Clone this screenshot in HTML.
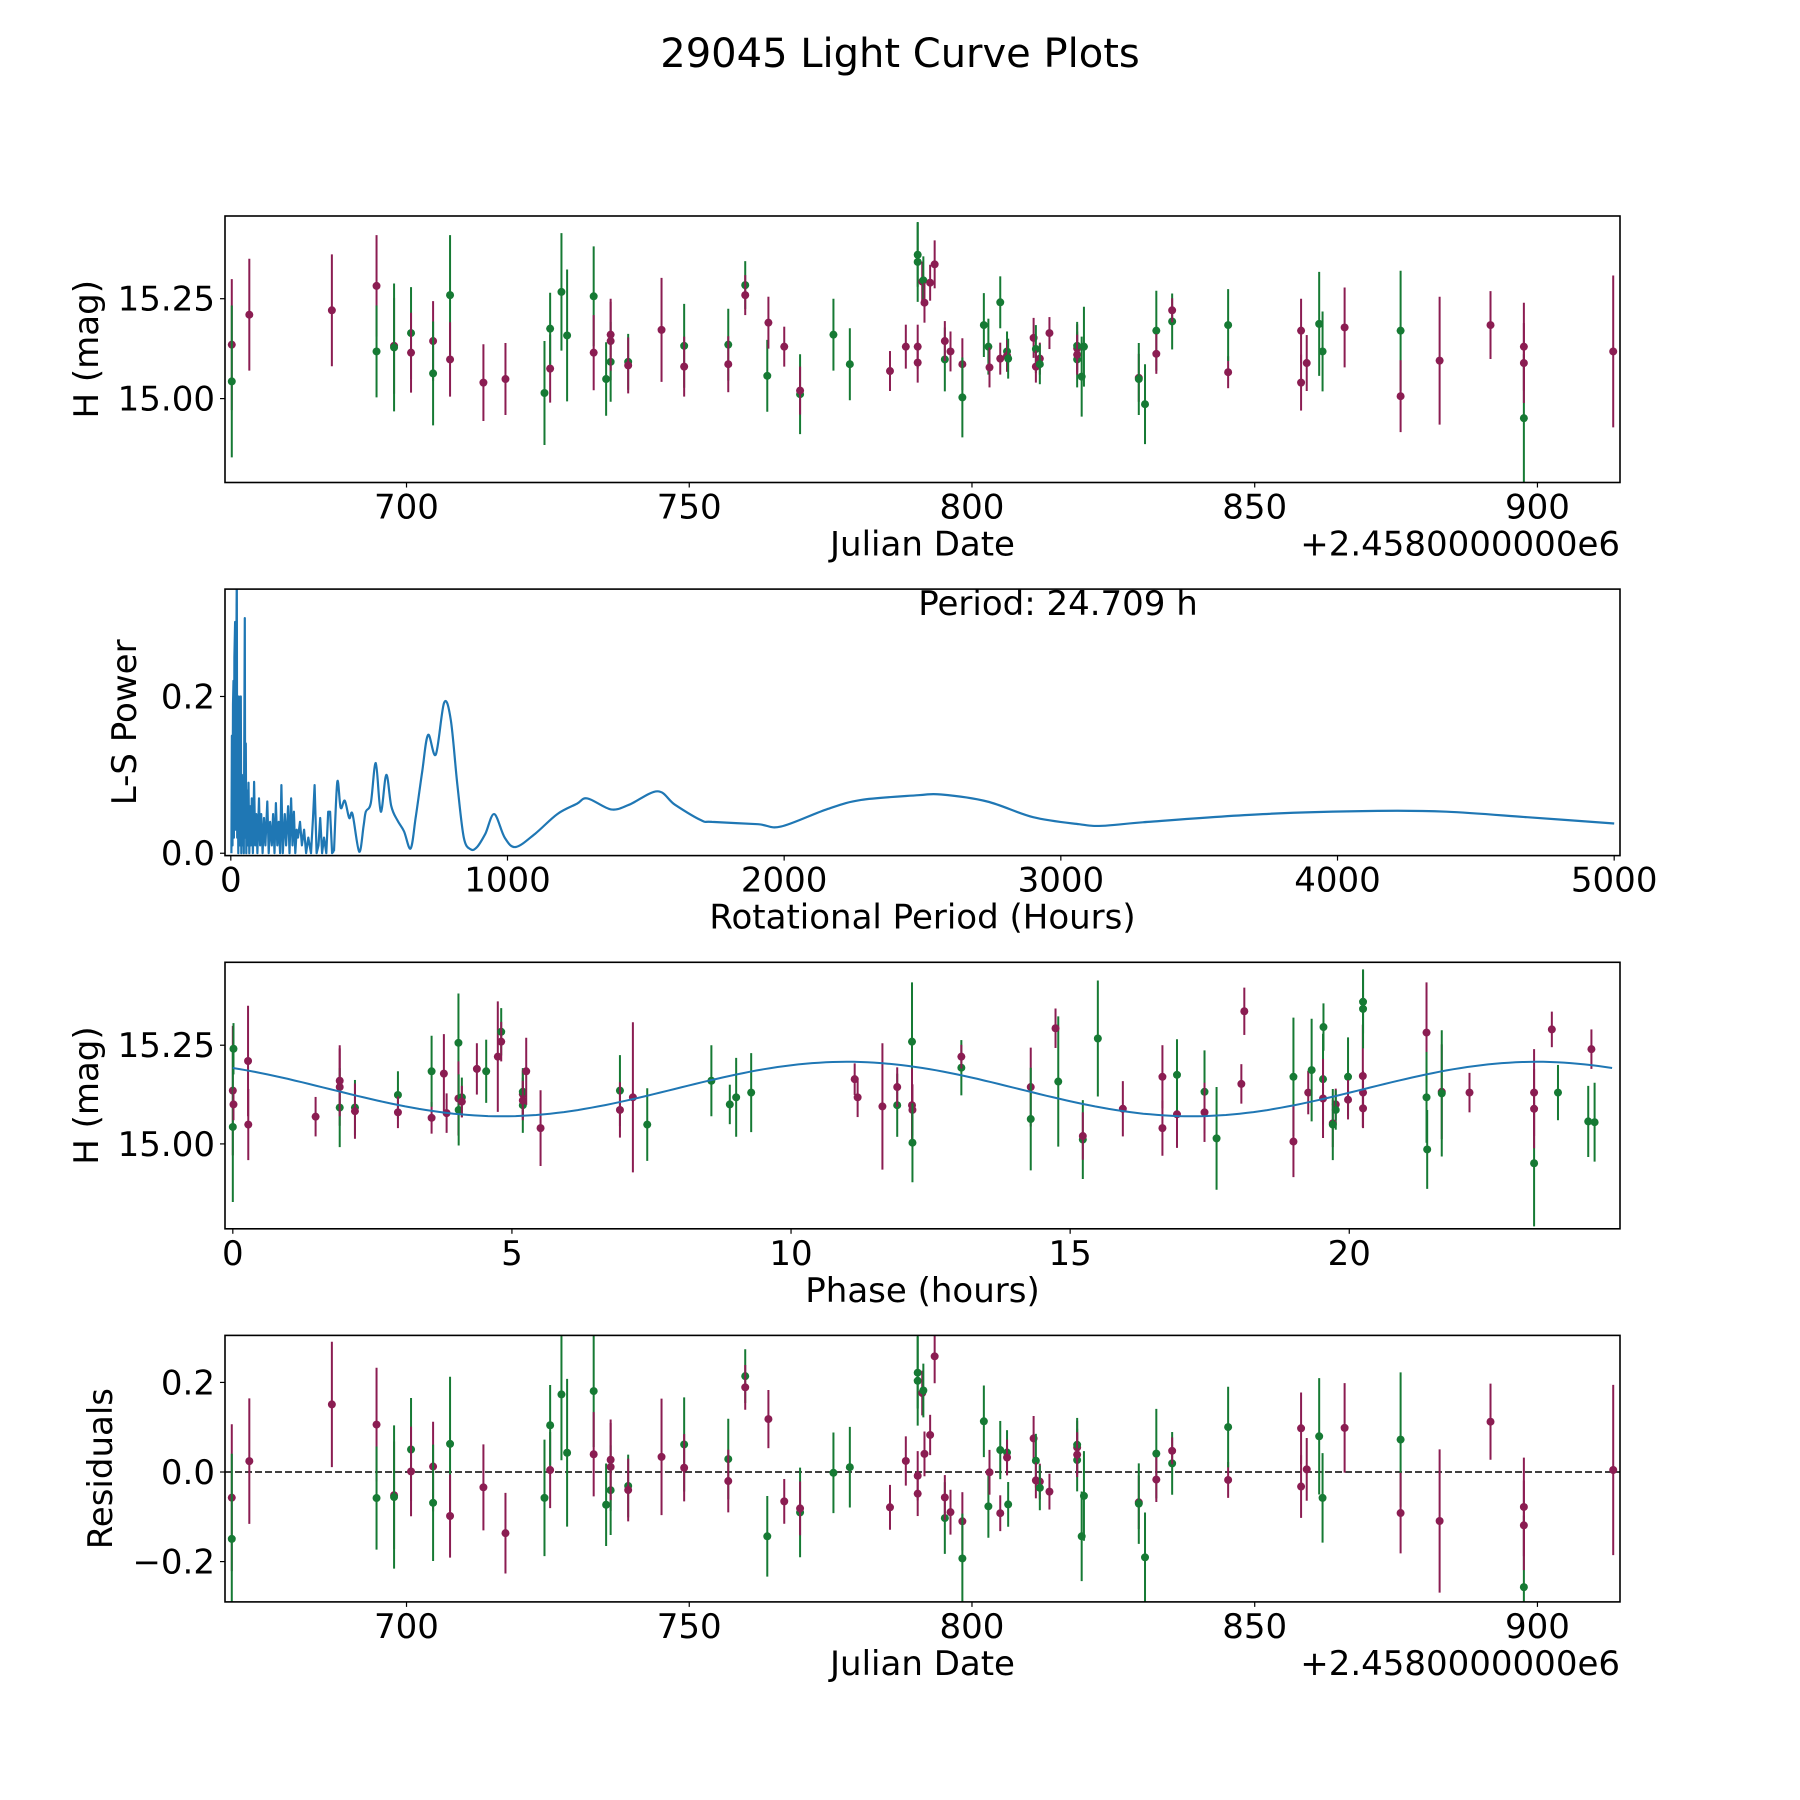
<!DOCTYPE html>
<html><head><meta charset="utf-8"><title>29045 Light Curve Plots</title>
<style>html,body{margin:0;padding:0;background:#fff}svg{display:block;font-family:"DejaVu Sans","Liberation Sans",sans-serif}</style></head>
<body>
<svg id="fig" width="1800" height="1800" viewBox="0 0 1800 1800" xmlns="http://www.w3.org/2000/svg">
<rect width="1800" height="1800" fill="#fff"/>
<text x="900" y="67" text-anchor="middle" font-size="40" fill="#000">29045 Light Curve Plots</text>
</svg>
<script>
// ---- observation data ----
const dates=[669.1,669.1,672.2,686.8,694.7,694.7,697.8,697.8,700.8,700.8,704.7,704.7,707.7,707.7,713.6,717.5,724.4,725.4,725.4,727.4,728.4,733.1,733.1,735.3,736.1,736.1,736.1,739.2,739.2,745.1,749.1,749.1,756.9,756.9,759.9,759.9,763.8,764.0,766.8,769.6,769.6,775.5,778.4,785.5,788.3,790.4,790.4,790.4,790.4,791.2,791.4,791.6,792.6,793.4,795.2,795.2,796.2,798.3,798.3,802.1,802.9,803.1,805.0,805.0,806.2,806.2,806.4,810.9,811.3,811.3,812.0,812.0,813.7,818.6,818.6,818.6,818.6,819.4,819.8,829.5,829.5,830.6,832.6,832.6,835.4,835.4,845.3,845.3,858.2,858.2,859.2,861.4,862.0,865.9,875.8,875.8,882.7,891.7,897.6,897.6,897.6,913.4];
const mags=[15.135,15.043,15.210,15.221,15.282,15.118,15.132,15.128,15.164,15.115,15.144,15.063,15.259,15.098,15.040,15.049,15.014,15.075,15.175,15.267,15.158,15.256,15.115,15.049,15.144,15.092,15.160,15.092,15.083,15.172,15.132,15.080,15.135,15.086,15.284,15.259,15.057,15.190,15.130,15.011,15.020,15.160,15.086,15.069,15.130,15.342,15.360,15.130,15.090,15.293,15.296,15.240,15.290,15.336,15.098,15.144,15.118,15.086,15.003,15.184,15.130,15.078,15.241,15.100,15.118,15.107,15.100,15.152,15.124,15.080,15.100,15.086,15.164,15.098,15.126,15.132,15.110,15.055,15.130,15.052,15.049,14.986,15.170,15.112,15.193,15.221,15.066,15.184,15.040,15.170,15.089,15.187,15.118,15.178,15.170,15.006,15.095,15.184,14.951,15.130,15.089,15.118];
const errs=[0.164,0.19,0.14,0.14,0.127,0.115,0.12,0.16,0.115,0.1,0.1,0.13,0.15,0.093,0.096,0.09,0.13,0.085,0.09,0.147,0.165,0.125,0.094,0.092,0.098,0.1,0.09,0.07,0.07,0.13,0.105,0.075,0.09,0.07,0.06,0.05,0.09,0.065,0.05,0.1,0.06,0.09,0.09,0.05,0.055,0.1,0.08,0.055,0.05,0.05,0.06,0.05,0.045,0.06,0.08,0.05,0.05,0.065,0.1,0.08,0.07,0.05,0.065,0.04,0.05,0.04,0.05,0.05,0.06,0.04,0.04,0.05,0.04,0.07,0.06,0.06,0.05,0.1,0.1,0.06,0.09,0.1,0.1,0.05,0.07,0.03,0.04,0.09,0.07,0.08,0.07,0.13,0.1,0.1,0.15,0.09,0.16,0.085,0.16,0.11,0.1,0.19];
const bands=["P","G","P","P","P","G","P","G","G","P","P","G","G","P","P","P","G","P","G","G","G","G","P","G","P","G","P","G","P","P","G","P","G","P","G","P","G","P","P","G","P","G","G","P","P","G","G","P","P","P","G","P","P","P","G","P","P","P","G","G","G","P","G","P","G","P","G","P","G","P","P","G","P","G","P","G","P","G","G","P","G","G","G","P","G","P","P","G","P","P","P","G","G","P","G","P","P","P","G","P","P","P"];
// ---- periodogram data (noisy short-period region) ----
const lsPeriodsShort=[2,4,6,8,9.6,11,13,15.5,17,19, 21.6,23,25,27,29,31,33,36,38,40, 42,45,47,50.5,52,54,56,58,61,64, 67,70,73,76,80,84,88,92,96,102, 106,110,115,120,125,132,137,142,148,153, 158,163,168,173,178,183,188,195,200,207, 212,218,223,228,233,238,243,250,257,265, 272,280,290,297,303,310,317,323,330,337, 345,352,359,366,373];
const lsPowerShort=[0.0,0.15,0.01,0.19,0.22,0.02,0.25,0.295,0.03,0.2, 0.36,0.02,0.12,0.0,0.2,0.01,0.13,0.2,0.0,0.1, 0.01,0.09,0.0,0.30,0.02,0.14,0.0,0.08,0.01,0.09, 0.0,0.06,0.01,0.07,0.0,0.091,0.01,0.05,0.0,0.07, 0.01,0.05,0.0,0.045,0.01,0.066,0.0,0.04,0.01,0.05, 0.0,0.064,0.01,0.04,0.0,0.087,0.0,0.05,0.01,0.06, 0.0,0.07,0.01,0.053,0.0,0.03,0.02,0.04,0.01,0.03, 0.0,0.02,0.0,0.045,0.087,0.0,0.01,0.045,0.0,0.02, 0.0,0.053,0.053,0.0,0.003];
// ---- periodogram data (smooth long-period region) ----
const lsPeriodsLong=[385,397,412,428,440,464,480,488,506,524, 542,562,580,602,626,650,668,692,713,741, 771,795,819,842,867,890,920,952,990,1030, 1100,1180,1250,1289,1374,1440,1542,1605,1700,1739, 1905,1988,2153,2278,2485,2568,2734,2900,3066,3150, 3315,3730,4145,4394,4685,5000];
const lsPowerLong=[0.091,0.058,0.067,0.045,0.05,0.002,0.035,0.053,0.064,0.115, 0.053,0.1,0.06,0.042,0.028,0.006,0.045,0.105,0.151,0.126, 0.192,0.17,0.087,0.02,0.005,0.008,0.025,0.05,0.02,0.008, 0.025,0.05,0.063,0.07,0.056,0.062,0.079,0.062,0.042,0.04, 0.037,0.034,0.056,0.068,0.074,0.075,0.066,0.046,0.037,0.035, 0.04,0.05,0.054,0.053,0.046,0.038];
// ---- model / tick data ----
const periodHours=24.709;
const modelMean=15.139, modelAmp=0.069, modelPeak=11.0, refDate=669.1;
const dateTicks=[700,750,800,850,900];
const lsTicks=[0,1000,2000,3000,4000,5000];
const phaseTicks=[0,5,10,15,20];
const magTicks=[15.00,15.25];
const magTickLabels=["15.00","15.25"];
const powTicks=[0.0,0.2];
const powTickLabels=["0.0","0.2"];
const resTicks=[-0.2,0.0,0.2];
const resTickLabels=["\u22120.2","0.0","0.2"];

const NS="http://www.w3.org/2000/svg";
const svg=document.getElementById('fig');
const COL={P:"#8b1d52",G:"#167a34"};
const L=225,R=1620,H=266.5,TOPS=[216,589.1,962.3,1335.4];
const FS=34;
function mk(tag,attrs,parent){const e=document.createElementNS(NS,tag);for(const k in attrs)e.setAttribute(k,attrs[k]);(parent||svg).appendChild(e);return e;}
function scale(d0,d1,r0,r1){return v=>r0+(v-d0)/(d1-d0)*(r1-r0);}
function model(ph){return modelMean+modelAmp*Math.cos(2*Math.PI*2*(ph-modelPeak)/periodHours);}
const phases=dates.map(d=>(((d-refDate)*24)%periodHours+periodHours)%periodHours);
const resid=mags.map((m,i)=>m-model(phases[i]));

function axes(i,xd,yd,name){
  const top=TOPS[i],bot=top+H;
  const g=mk('g',{});
  
  
  const cp=mk('clipPath',{id:'cp'+i},g);mk('rect',{x:L,y:top,width:R-L,height:H},cp);
  const data=mk('g',{'clip-path':'url(#cp'+i+')'},g);
  return {g,data,x:scale(xd[0],xd[1],L,R),y:scale(yd[0],yd[1],bot,top),top,bot};
}
function frame(a,xt,xtl,yt,ytl,xlabel,ylabel,ylx,offset){
  const f=mk('rect',{x:L,y:a.top,width:R-L,height:H,fill:'none',stroke:'#000','stroke-width':1.6},a.g);
  
  
  xt.forEach((v,k)=>{const px=a.x(v);mk('line',{x1:px,x2:px,y1:a.bot,y2:a.bot+5,stroke:'#000','stroke-width':1.2},a.g);
    const t=mk('text',{x:px,y:a.bot+36,'text-anchor':'middle','font-size':FS},a.g);t.textContent=xtl[k];
    
    });
  yt.forEach((v,k)=>{const py=a.y(v);mk('line',{x1:L-5,x2:L,y1:py,y2:py,stroke:'#000','stroke-width':1.2},a.g);
    const t=mk('text',{x:L-10,y:py+12,'text-anchor':'end','font-size':FS},a.g);t.textContent=ytl[k];
    
    });
  const xl=mk('text',{x:(L+R)/2,y:a.bot+73,'text-anchor':'middle','font-size':FS},a.g);xl.textContent=xlabel;
  
  
  const yl=mk('text',{x:ylx,y:a.top+H/2,'text-anchor':'middle','font-size':FS,transform:`rotate(-90 ${ylx} ${a.top+H/2})`},a.g);yl.textContent=ylabel;
  
  
  if(offset){const o=mk('text',{x:R,y:a.bot+73,'text-anchor':'end','font-size':FS},a.g);o.textContent=offset;
    
    }
}
function errpoints(a,xs,ys){
  xs.forEach((xv,i)=>{const px=a.x(xv);const c=COL[bands[i]];
    const ln=mk('line',{x1:px,x2:px,y1:a.y(ys[i]-errs[i]),y2:a.y(ys[i]+errs[i]),stroke:c,'stroke-width':2},a.data);
    
    
    const p=mk('circle',{cx:px,cy:a.y(ys[i]),r:4,fill:c},a.data);
    
    });
}
function smoothPath(pts){
  let d='M'+pts[0][0].toFixed(1)+' '+pts[0][1].toFixed(1);
  for(let i=0;i<pts.length-1;i++){
    const p0=pts[Math.max(0,i-1)],p1=pts[i],p2=pts[i+1],p3=pts[Math.min(pts.length-1,i+2)];
    const c1x=p1[0]+(p2[0]-p0[0])/6,c1y=p1[1]+(p2[1]-p0[1])/6;
    const c2x=p2[0]-(p3[0]-p1[0])/6,c2y=p2[1]-(p3[1]-p1[1])/6;
    d+=` C${c1x.toFixed(1)} ${c1y.toFixed(1)} ${c2x.toFixed(1)} ${c2y.toFixed(1)} ${p2[0].toFixed(1)} ${p2[1].toFixed(1)}`;
  }
  return d;
}
const dxl=[667.9,914.6];
const tl=a=>a.map(String);
// Panel 1
const a1=axes(0,dxl,[14.79,15.457],'light-curve-panel');
errpoints(a1,dates,mags);
frame(a1,dateTicks,tl(dateTicks),magTicks,magTickLabels,'Julian Date','H (mag)',98,'+2.4580000000e6');
// Panel 2
const a2=axes(1,[-21,5021],[-0.003,0.337],'periodogram-panel');
const shortPts=lsPeriodsShort.map((p,i)=>(i?'L':'M')+a2.x(p).toFixed(1)+' '+a2.y(lsPowerShort[i]).toFixed(1)).join(' ');
const longPts=[[a2.x(lsPeriodsShort[lsPeriodsShort.length-1]),a2.y(lsPowerShort[lsPowerShort.length-1])]].concat(lsPeriodsLong.map((p,i)=>[a2.x(p),a2.y(lsPowerLong[i])]));
const pl=mk('path',{d:shortPts,fill:'none',stroke:'#1f77b4','stroke-width':2.2,'stroke-linejoin':'round'},a2.data);


const pl2=mk('path',{d:smoothPath(longPts),fill:'none',stroke:'#1f77b4','stroke-width':2.2,'stroke-linejoin':'round'},a2.data);


frame(a2,lsTicks,tl(lsTicks),powTicks,powTickLabels,'Rotational Period (Hours)','L-S Power',136);
const pt=mk('text',{x:1058,y:615,'text-anchor':'middle','font-size':FS},a2.g);pt.textContent='Period: '+periodHours.toFixed(3)+' h';


// Panel 3
const a3=axes(2,[-0.14,24.85],[14.785,15.46],'phase-panel');
errpoints(a3,phases,mags);
let md='';for(let k=0;k<=200;k++){const ph=periodHours*k/200;md+=(k?'L':'M')+a3.x(ph).toFixed(1)+' '+a3.y(model(ph)).toFixed(1)+' ';}
const ml=mk('path',{d:md,fill:'none',stroke:'#1f77b4','stroke-width':2},a3.data);


frame(a3,phaseTicks,tl(phaseTicks),magTicks,magTickLabels,'Phase (hours)','H (mag)',98);
// Panel 4
const a4=axes(3,dxl,[-0.29,0.305],'residuals-panel');
const zl=mk('line',{x1:L,x2:R,y1:a4.y(0),y2:a4.y(0),stroke:'#000','stroke-width':1.6,'stroke-dasharray':'7,3'},a4.data);


errpoints(a4,dates,resid);
frame(a4,dateTicks,tl(dateTicks),resTicks,resTickLabels,'Julian Date','Residuals',112,'+2.4580000000e6');
</script>
</body></html>
